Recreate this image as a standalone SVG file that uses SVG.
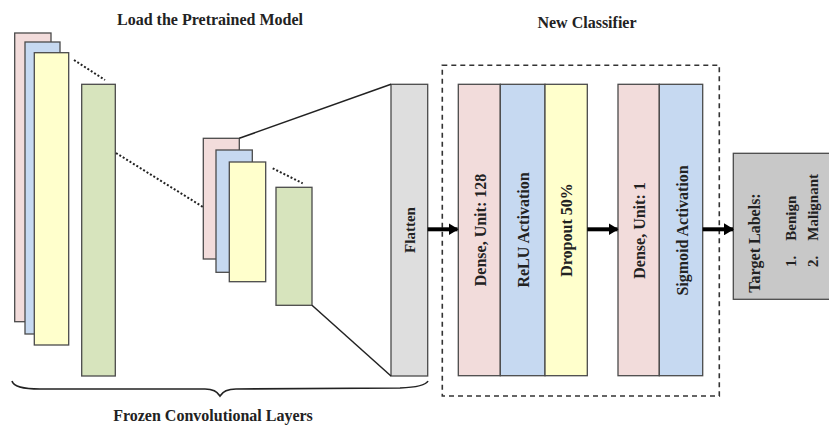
<svg xmlns="http://www.w3.org/2000/svg" width="829" height="428" viewBox="0 0 829 428">
<style>
.t{font-family:"Liberation Serif","Times New Roman",serif;font-weight:bold;fill:#222;}
.b{stroke:#4a4a4a;stroke-width:1.3;}
.pk{fill:#f2dcdb;}
.bl{fill:#c6d9f1;}
.yl{fill:#ffffcc;}
.gr{fill:#d7e4bd;}
.dot{stroke:#222;stroke-width:2;stroke-dasharray:2,2;fill:none;}
.sol{stroke:#222;stroke-width:1.5;fill:none;}
.arr{stroke:#000;stroke-width:4;fill:none;}
</style>
<defs>
<marker id="ah" markerUnits="userSpaceOnUse" markerWidth="10" markerHeight="12" refX="9" refY="6" orient="auto">
<path d="M0,0 L10,6 L0,12 Z" fill="#000"/>
</marker>
</defs>
<rect width="829" height="428" fill="#fff"/>
<text class="t" x="210" y="25" font-size="16" text-anchor="middle">Load the Pretrained Model</text>
<text class="t" x="587" y="28" font-size="16" text-anchor="middle">New Classifier</text>
<text class="t" x="213" y="421" font-size="16" text-anchor="middle">Frozen Convolutional Layers</text>

<g id="conv1">
<rect class="b pk" x="14.7" y="33" width="36.3" height="288.7"/>
<rect class="b bl" x="25" y="42" width="35" height="292"/>
<rect class="b yl" x="34.3" y="52.7" width="34.4" height="292.3"/>
</g>
<g id="conv1_out">
<rect class="b gr" x="81.7" y="84.3" width="33.6" height="291.7"/>
</g>
<g id="conv2">
<rect class="b pk" x="203.3" y="138.3" width="36" height="120.7"/>
<rect class="b bl" x="216" y="150" width="36.3" height="122.3"/>
<rect class="b yl" x="229.3" y="162" width="36.4" height="119.7"/>
</g>
<g id="conv2_out">
<rect class="b gr" x="276" y="187.3" width="36" height="118"/>
</g>
<g id="flatten">
<rect class="b" x="391" y="84.3" width="36.7" height="291.7" fill="#dedede"/>
<text class="t" font-size="15" text-anchor="middle" transform="translate(415,230) rotate(-90)">Flatten</text>
</g>
<g id="classifier">
<rect x="442.3" y="65.3" width="277" height="330.7" fill="none" stroke="#333" stroke-width="1.6" stroke-dasharray="5,4"/>
</g>
<g id="dense128">
<rect class="b pk" x="458.3" y="84.3" width="42" height="291.4"/>
<text class="t" font-size="16" text-anchor="middle" transform="translate(485.5,230) rotate(-90)">Dense, Unit: 128</text>
</g>
<g id="relu">
<rect class="b bl" x="500.3" y="84.3" width="44.7" height="291.4"/>
<text class="t" font-size="16" text-anchor="middle" transform="translate(528.5,230) rotate(-90)">ReLU Activation</text>
</g>
<g id="dropout">
<rect class="b yl" x="545" y="84.3" width="42.3" height="291.4"/>
<text class="t" font-size="16" text-anchor="middle" transform="translate(572,230) rotate(-90)">Dropout 50%</text>
</g>
<g id="dense1">
<rect class="b pk" x="618" y="84.3" width="41.3" height="291.4"/>
<text class="t" font-size="16" text-anchor="middle" transform="translate(645,230.5) rotate(-90)">Dense, Unit: 1</text>
</g>
<g id="sigmoid">
<rect class="b bl" x="659.3" y="84.3" width="43.4" height="291.4"/>
<text class="t" font-size="16" text-anchor="middle" transform="translate(687.5,230.5) rotate(-90)">Sigmoid Activation</text>
</g>
<g id="target">
<rect class="b" x="733.3" y="153.3" width="110" height="146" fill="#c8c8c8"/>
<text class="t" font-size="16" text-anchor="middle" transform="translate(760,243) rotate(-90)">Target Labels:</text>
<text class="t" font-size="15" transform="translate(796,267) rotate(-90)">1.</text>
<text class="t" font-size="15" transform="translate(796,240.7) rotate(-90)">Benign</text>
<text class="t" font-size="15" transform="translate(818,267) rotate(-90)">2.</text>
<text class="t" font-size="15" transform="translate(818,240.7) rotate(-90)">Malignant</text>
</g>
<g id="connectors">
<path class="dot" d="M74,60 L105,80"/>
<path class="dot" d="M116,153 L203,207"/>
<path class="dot" d="M272.7,168.3 L302.7,183.3"/>
<path class="sol" d="M239.3,138.3 L391,84.3"/>
<path class="sol" d="M312,305.3 L391,376"/>
<path d="M12,381 Q14,389 40,389 L205,389 Q216,389 220,396 Q224,389 236,389 L400,388 Q425,387 428,381" fill="none" stroke="#222" stroke-width="1.6"/>
<path class="arr" d="M427.7,229.3 L457.5,229.3" marker-end="url(#ah)"/>
<path class="arr" d="M587.3,229.3 L617.5,229.3" marker-end="url(#ah)"/>
<path class="arr" d="M702.7,229.3 L733,229.3" marker-end="url(#ah)"/>
</g>
</svg>
